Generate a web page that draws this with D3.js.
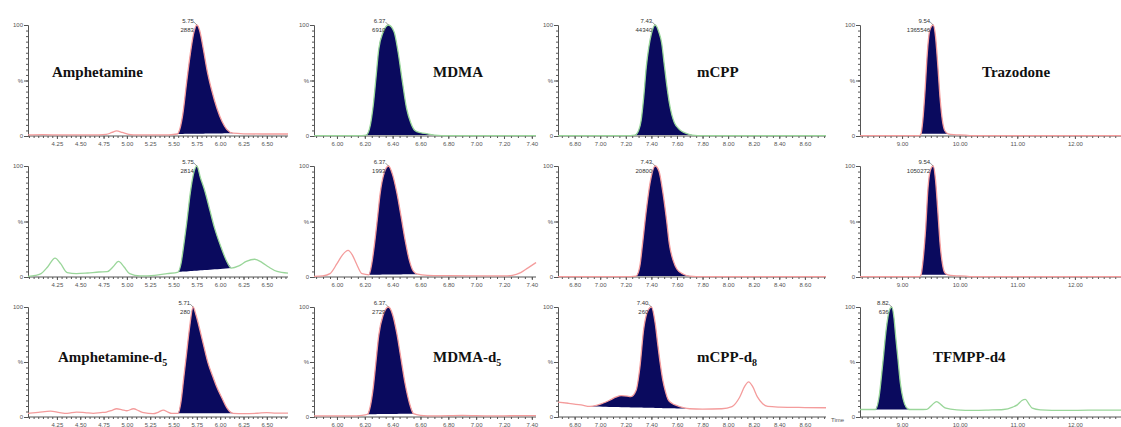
<!DOCTYPE html>
<html>
<head>
<meta charset="utf-8">
<script src="https://cdn.jsdelivr.net/npm/d3@7"></script>
<style>
  body { margin: 0; background: #fff; }
  svg { display: block; }
</style>
</head>
<body>
<svg id="chart"></svg>
<script>
const width = 1121;
const height = 427;

// tick labels of each column (retention time, min)
const colTicks = [
  [4.25, 4.50, 4.75, 5.00, 5.25, 5.50, 5.75, 6.00, 6.25, 6.50],
  [6.00, 6.20, 6.40, 6.60, 6.80, 7.00, 7.20, 7.40],
  [6.80, 7.00, 7.20, 7.40, 7.60, 7.80, 8.00, 8.20, 8.40, 8.60],
  [9.00, 10.00, 11.00, 12.00]
];

// "|" marks a subscript
const compoundNames = [
  ['Amphetamine', 'MDMA', 'mCPP', 'Trazodone'],
  ['', '', '', ''],
  ['Amphetamine-d|5', 'MDMA-d|5', 'mCPP-d|8', 'TFMPP-d4']
];

const peakRt = [
  [5.75, 6.37, 7.43, 9.54],
  [5.75, 6.37, 7.43, 9.54],
  [5.71, 6.37, 7.40, 8.82]
];
const peakArea = [
  ['2883', '6910', '44340', '1365546'],
  ['2814', '1993', '20800', '1050272'],
  ['280', '2729', '260', '636']
];
// integration window of the filled peak
const peakStart = [
  [5.54, 6.21, 7.27, 9.33],
  [5.55, 6.23, 7.28, 9.33],
  [5.55, 6.22, 6.92, 8.54]
];
const peakEnd = [
  [6.14, 6.70, 7.72, 9.80],
  [6.12, 6.58, 7.70, 9.80],
  [6.14, 6.55, 7.70, 9.13]
];

// chromatogram traces [time, relative intensity %]
const traceAmph = [[3.94,1],[4.1,1.2],[4.3,1],[4.5,1.1],[4.7,1],[4.78,1.4],[4.84,3.2],[4.89,4.6],[4.95,3.2],[5.02,1.5],[5.12,1],[5.3,1],[5.45,1.1],[5.54,1.8],[5.57,7],[5.6,20],[5.64,48],[5.68,74],[5.72,94],[5.75,100],[5.78,95],[5.82,78],[5.86,59],[5.91,41],[5.965,25],[6.02,13],[6.07,6],[6.14,2.5],[6.25,2],[6.45,1.8],[6.727,1.8]];
const traceMdma = [[5.835,0.3],[6.0,0.3],[6.15,0.3],[6.21,0.8],[6.24,10],[6.26,27],[6.28,52],[6.30,78],[6.33,93],[6.37,100],[6.41,94],[6.44,75],[6.47,49],[6.50,25],[6.53,12],[6.56,5],[6.6,3],[6.65,2],[6.70,0.8],[6.8,0.3],[7.43,0.3]];
const traceMcpp = [[6.67,0.3],[7.0,0.3],[7.2,0.3],[7.27,0.8],[7.30,5],[7.32,14],[7.34,35],[7.36,62],[7.38,80],[7.40,92],[7.43,100],[7.46,93],[7.48,84],[7.50,65],[7.52,46],[7.54,30],[7.56,19],[7.58,12],[7.61,7],[7.64,4],[7.67,2.5],[7.72,0.8],[7.8,0.3],[8.765,0.3]];
const traceTraz = [[8.27,0.3],[9.0,0.3],[9.3,0.3],[9.33,2],[9.36,14],[9.40,42],[9.44,76],[9.48,95],[9.54,100],[9.58,90],[9.62,64],[9.66,34],[9.70,14],[9.74,5],[9.80,2],[9.9,1.2],[10.1,0.8],[10.2,0.3],[12.8,0.3]];

const traceAmph2 = [[3.94,0.5],[4.02,1.5],[4.08,3],[4.15,9],[4.23,17],[4.29,12],[4.36,4],[4.46,3],[4.58,3.6],[4.7,4.5],[4.79,4.8],[4.85,9],[4.91,14],[4.97,9],[5.03,3],[5.14,1],[5.3,1.5],[5.43,3],[5.55,4.5],[5.58,12],[5.61,29],[5.64,48],[5.68,76],[5.72,95],[5.75,100],[5.79,89],[5.83,79],[5.89,60],[5.94,44],[6.0,29],[6.06,16],[6.12,8],[6.2,10],[6.28,14],[6.37,16],[6.45,13],[6.52,9],[6.61,5],[6.727,3.5]];
const traceMdma2 = [[5.835,0.5],[5.9,1],[5.95,3],[6.0,12],[6.04,20],[6.08,24],[6.11,20],[6.14,12],[6.18,3],[6.23,2],[6.25,12],[6.27,30],[6.29,52],[6.31,75],[6.34,94],[6.37,100],[6.40,92],[6.43,76],[6.46,55],[6.49,33],[6.52,15],[6.55,5],[6.58,2.5],[6.65,1.5],[6.8,1.2],[7.0,1],[7.2,1],[7.26,1.5],[7.32,4],[7.37,8],[7.43,13]];
const traceMcpp2 = [[6.67,0.3],[7.0,0.3],[7.2,0.3],[7.28,0.8],[7.31,10],[7.33,29],[7.36,60],[7.39,85],[7.43,100],[7.46,95],[7.49,76],[7.52,50],[7.54,30],[7.57,15],[7.60,7],[7.65,2.5],[7.70,0.8],[7.8,0.3],[8.765,0.3]];
const traceTraz2 = [[8.27,0.3],[9.0,0.3],[9.30,0.3],[9.33,2],[9.37,18],[9.41,44],[9.45,80],[9.49,96],[9.54,100],[9.58,88],[9.62,60],[9.66,30],[9.70,12],[9.74,4],[9.80,2],[9.9,1.2],[10.1,0.8],[10.2,0.3],[12.8,0.3]];

const traceAmphD5 = [[3.94,3.3],[4.05,4.2],[4.18,5.4],[4.28,4],[4.36,3.3],[4.46,4.5],[4.55,4],[4.64,3.3],[4.72,4],[4.78,4.5],[4.84,6],[4.89,7.5],[4.95,6.5],[5.0,5.7],[5.07,7.5],[5.13,5.5],[5.18,3.9],[5.28,3],[5.34,4.5],[5.39,6.3],[5.44,4.5],[5.48,3.3],[5.55,3.3],[5.58,14],[5.61,36],[5.64,58],[5.67,80],[5.71,100],[5.74,93],[5.78,80],[5.82,66],[5.87,49],[5.92,37],[5.96,28],[6.02,17],[6.07,8.5],[6.14,3.3],[6.25,3],[6.4,3.4],[6.5,4],[6.6,3.6],[6.727,3.6]];
const traceMdmaD5 = [[5.835,1],[6.0,1],[6.1,1],[6.18,1.5],[6.22,2.5],[6.24,10],[6.26,26],[6.28,50],[6.30,74],[6.33,92],[6.37,100],[6.40,93],[6.43,76],[6.46,53],[6.49,30],[6.52,13],[6.55,3],[6.6,1.5],[6.7,1],[6.9,1.5],[7.1,1],[7.3,1.2],[7.43,1.2]];
const traceMcppD8 = [[6.67,13.5],[6.75,12.5],[6.85,11],[6.92,9.6],[6.97,10.5],[7.02,12.5],[7.07,15],[7.12,18],[7.165,19.4],[7.21,19],[7.24,18.5],[7.28,24],[7.31,45],[7.34,80],[7.37,96],[7.40,100],[7.43,85],[7.45,66],[7.47,48],[7.49,33],[7.51,23],[7.53,16],[7.56,12.5],[7.6,10.4],[7.65,8.5],[7.70,7.5],[7.8,7.2],[7.95,7.5],[8.03,9.5],[8.09,18],[8.13,28],[8.16,32],[8.19,28],[8.23,18],[8.27,12],[8.31,9.6],[8.4,9],[8.6,8.6],[8.765,8.4]];
const traceTfmpp = [[8.27,6.8],[8.4,6.8],[8.54,6.8],[8.6,18],[8.66,46],[8.73,82],[8.78,97],[8.82,100],[8.86,90],[8.89,73],[8.93,52],[8.97,31],[9.02,16],[9.07,9],[9.13,6.8],[9.3,6.8],[9.43,7],[9.52,11],[9.60,14],[9.68,11],[9.76,8],[9.95,6.5],[10.24,6],[10.5,6.3],[10.76,6.8],[10.92,9],[11.0,11],[11.08,15],[11.14,16],[11.2,12],[11.26,8],[11.4,6.5],[11.8,6],[12.3,6.2],[12.8,6.2]];

const traces = [
  [traceAmph, traceMdma, traceMcpp, traceTraz],
  [traceAmph2, traceMdma2, traceMcpp2, traceTraz2],
  [traceAmphD5, traceMdmaD5, traceMcppD8, traceTfmpp]
];

// layout
const colX = [[28, 288], [314, 536], [558, 826], [860, 1121]];
const rowY = [[25, 136], [166, 277], [307, 417]];
const colDomain = [[3.94, 6.727], [5.835, 7.43], [6.67, 8.765], [8.27, 12.8]];
const minorStep = [0.05, 0.05, 0.05, 0.1];
const nameX = [[52, 433, 697, 982], [0, 0, 0, 0], [58, 433, 697, 933]];
const nameY = [77, 0, 362];

const pink = '#f49c9c';
const green = '#9ad69a';
const navy = '#0a0a5e';
const lineColor = [
  [pink, green, green, pink],
  [green, pink, pink, pink],
  [pink, pink, pink, green]
];

const svg = d3.select('#chart')
  .attr('width', width)
  .attr('height', height)
  .style('font-family', '"Liberation Sans", Arial, sans-serif');

function drawPanel(r, c) {
  const g = svg.append('g');
  const x = d3.scaleLinear().domain(colDomain[c]).range(colX[c]);
  const y = d3.scaleLinear().domain([0, 100]).range([rowY[r][1], rowY[r][0]]);
  const x0 = colX[c][0];
  const yb = rowY[r][1];

  // x axis: minor + major ticks
  const dom = colDomain[c];
  const minors = d3.range(Math.ceil(dom[0] / minorStep[c]) * minorStep[c], dom[1], minorStep[c]);
  g.append('g')
    .attr('transform', `translate(0, ${yb})`)
    .call(d3.axisBottom(x).tickValues(minors).tickSize(2).tickSizeOuter(0).tickFormat(''))
    .call(a => a.select('.domain').remove());
  g.append('g')
    .attr('transform', `translate(0, ${yb})`)
    .call(d3.axisBottom(x).tickValues(colTicks[c]).tickSize(3).tickPadding(3)
      .tickSizeOuter(0).tickFormat(d3.format('.2f')))
    .call(a => a.select('.domain').remove())
    .call(a => a.selectAll('text').attr('font-size', 6).attr('fill', '#555'));

  g.append('line')
    .attr('x1', x0).attr('x2', colX[c][1])
    .attr('y1', yb).attr('y2', yb)
    .attr('stroke', '#555').attr('stroke-width', 1);

  // y axis
  g.append('g')
    .attr('transform', `translate(${x0}, 0)`)
    .call(d3.axisLeft(y).tickValues(d3.range(0, 101, 5)).tickSize(2).tickSizeOuter(0).tickFormat(''));
  g.append('g')
    .attr('transform', `translate(${x0}, 0)`)
    .call(d3.axisLeft(y).tickValues([0, 50, 100]).tickSize(4).tickPadding(1).tickSizeOuter(0)
      .tickFormat(d => d === 50 ? '%' : d))
    .call(a => a.selectAll('text').attr('font-size', 6).attr('fill', '#555'));
  g.selectAll('.domain, .tick line').attr('stroke', '#555');

  // filled peak
  const tr = traces[r][c];
  const s = peakStart[r][c], e = peakEnd[r][c];
  const win = tr.filter(d => d[0] >= s && d[0] <= e);
  const base = d3.scaleLinear().domain([s, e]).range([win[0][1], win[win.length - 1][1]]);

  g.append('path')
    .datum(win)
    .attr('fill', navy)
    .attr('d', d3.area()
      .x(d => x(d[0]))
      .y0(d => y(base(d[0])))
      .y1(d => y(d[1]))
      .curve(d3.curveMonotoneX));

  g.append('path')
    .datum(tr)
    .attr('fill', 'none')
    .attr('stroke', lineColor[r][c])
    .attr('stroke-width', 1.3)
    .attr('d', d3.line()
      .x(d => x(d[0]))
      .y(d => y(d[1]))
      .curve(d3.curveMonotoneX));

  // apex annotation
  const ax = x(peakRt[r][c]), ay = y(100);
  const ann = g.append('g').attr('font-size', 6).attr('fill', '#333').attr('text-anchor', 'end');
  ann.append('text').attr('x', ax - 3).attr('y', ay - 2).text(peakRt[r][c].toFixed(2));
  ann.append('text').attr('x', ax - 3).attr('y', ay + 7).text(peakArea[r][c]);
  g.append('line')
    .attr('x1', ax - 3).attr('y1', ay - 3)
    .attr('x2', ax).attr('y2', ay)
    .attr('stroke', '#555').attr('stroke-width', 0.6);

  // compound name
  const name = compoundNames[r][c];
  if (name) {
    const parts = name.split('|');
    const t = svg.append('text')
      .attr('x', nameX[r][c]).attr('y', nameY[r])
      .attr('font-family', '"Liberation Serif", "Times New Roman", serif')
      .attr('font-weight', 'bold')
      .attr('font-size', 15)
      .attr('fill', '#111')
      .text(parts[0]);
    if (parts[1]) {
      t.append('tspan').attr('font-size', 10).attr('dy', 4).text(parts[1]);
    }
  }
}

for (let r = 0; r < 3; r++) {
  for (let c = 0; c < 4; c++) {
    drawPanel(r, c);
  }
}

svg.append('text')
  .attr('x', 831).attr('y', 422)
  .attr('font-size', 6).attr('fill', '#555')
  .text('Time');
</script>
</body>
</html>
